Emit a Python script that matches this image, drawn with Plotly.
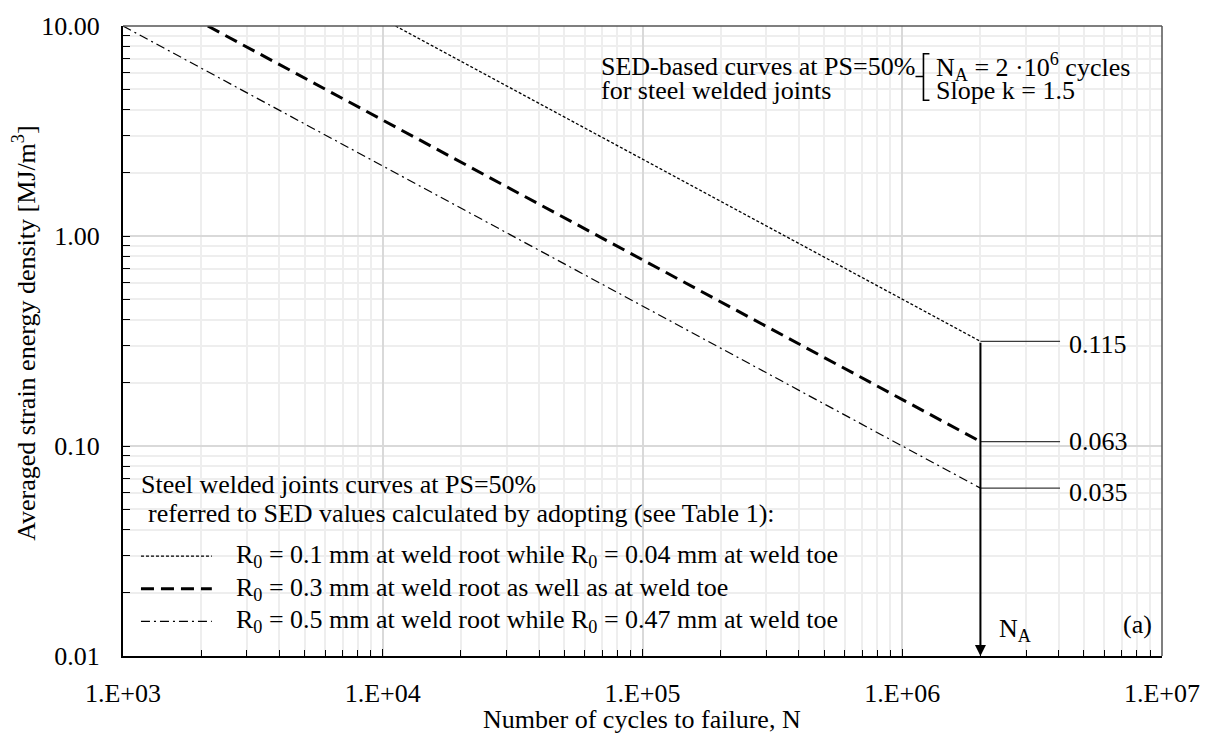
import math
import plotly.graph_objects as go

# --- data -------------------------------------------------------------------
N_A = 2.0e6                       # reference number of cycles
k_slope = 1.5
series_names = [
    "R<sub>0</sub> = 0.1 mm at weld root while R<sub>0</sub> = 0.04 mm at weld toe",
    "R<sub>0</sub> = 0.3 mm at weld root as well as at weld toe",
    "R<sub>0</sub> = 0.5 mm at weld root while R<sub>0</sub> = 0.47 mm at weld toe",
]
# first visible point of each curve (N, SED) and its value at N_A
n_start = [11200, 2120, 1000]
w_start = [10.0, 10.0, 10.0]
w_at_NA = [0.315, 0.105, 0.063]
# values quoted next to the curve ends
end_labels = ["0.115", "0.063", "0.035"]

x_tickvals = [1e3, 1e4, 1e5, 1e6, 1e7]
x_ticktext = ["1.E+03", "1.E+04", "1.E+05", "1.E+06", "1.E+07"]
y_tickvals = [0.01, 0.1, 1, 10]
y_ticktext = ["0.01", "0.10", "1.00", "10.00"]

# --- styling ----------------------------------------------------------------
FONT = "Liberation Serif"
FS = 26
W, H = 1212, 733
ML, MR, MT, MB = 123, 48, 19, 77
PW, PH = W - ML - MR, H - MT - MB

line_styles = [
    dict(color="black", width=1.3, dash="3px,2px"),
    dict(color="black", width=3, dash="13px,7px"),
    dict(color="black", width=1.2, dash="9px,4px,2px,4px"),
]


def px(xp):
    return (xp - ML) / PW


def py(yp):
    return 1 - (yp - MT) / PH


fig = go.Figure()

for i in range(3):
    fig.add_trace(go.Scatter(
        x=[n_start[i], N_A], y=[w_start[i], w_at_NA[i]],
        mode="lines", line=line_styles[i], showlegend=False,
        hoverinfo="skip",
    ))

# leader lines from the curve ends to their labels
lead_end = 4.05e6
for i in range(3):
    fig.add_trace(go.Scatter(
        x=[N_A, lead_end], y=[w_at_NA[i], w_at_NA[i]],
        mode="lines", line=dict(color="#3a3a3a", width=1.3),
        showlegend=False, hoverinfo="skip",
    ))

minor_x = [m * 10 ** d for d in range(3, 7) for m in range(2, 10)]
minor_y = [m * 10 ** d for d in range(-2, 1) for m in range(2, 10)]

axis_common = dict(
    type="log", showline=True, linecolor="black", linewidth=2,
    ticks="inside", ticklen=7, tickwidth=1, tickcolor="black",
    showgrid=True, gridcolor="#d9d9d9", gridwidth=1.6,
    tickfont=dict(family=FONT, size=FS, color="black"),
    zeroline=False, mirror=False,
)

fig.update_xaxes(
    **axis_common, range=[3, 7], tickmode="array",
    tickvals=x_tickvals, ticktext=x_ticktext, ticklabelstandoff=13,
    minor=dict(tickvals=minor_x, ticks="inside", ticklen=6, tickwidth=1,
               tickcolor="black", showgrid=True, gridcolor="#eeeeee",
               gridwidth=1.6),
)
fig.update_yaxes(
    **axis_common, range=[-2, 1], tickmode="array",
    tickvals=y_tickvals, ticktext=y_ticktext, ticklabelstandoff=16,
    minor=dict(tickvals=minor_y, ticks="inside", ticklen=7, tickwidth=1,
               tickcolor="black", showgrid=True, gridcolor="#eeeeee",
               gridwidth=1.6),
)

shapes = [
    # top and right frame of the plot area
    dict(type="line", xref="paper", yref="paper", x0=0, x1=1, y0=1, y1=1,
         line=dict(color="#555555", width=1.5)),
    dict(type="line", xref="paper", yref="paper", x0=1, x1=1, y0=0, y1=1,
         line=dict(color="#555555", width=1.5)),
    # white panel behind the legend entries
    dict(type="rect", xref="paper", yref="paper", x0=px(215), x1=px(883),
         y0=py(650), y1=py(532), fillcolor="white", line=dict(width=0),
         layer="between"),
]

# legend samples
legend_y = [555, 588, 621]
for i in range(3):
    st = line_styles[i]
    shapes.append(dict(type="line", xref="paper", yref="paper",
                       x0=px(141), x1=px(212), y0=py(legend_y[i]), y1=py(legend_y[i]),
                       line=dict(color="black", width=st["width"], dash=st["dash"])))

# bracket joining the two SED notes (vertical bar, end serifs, small tick)
bx, btop, bbot, btick, bleft, bright = 925, 47, 94, 70, 917, 931
bracket = (f"M {px(bright)},{py(btop)} L {px(bx)},{py(btop)} "
           f"L {px(bx)},{py(bbot)} L {px(bright)},{py(bbot)} "
           f"M {px(bx)},{py(btick)} L {px(bleft)},{py(btick)}")
shapes.append(dict(type="path", xref="paper", yref="paper", path=bracket,
                   line=dict(color="black", width=1.6)))

fig.update_layout(shapes=shapes)

tf = dict(family=FONT, size=FS, color="black")
ann = []

# arrow marking N_A
ann.append(dict(x=math.log10(N_A), y=-2, ax=math.log10(N_A), ay=math.log10(w_at_NA[0]),
                xref="x", yref="y", axref="x", ayref="y", text="", showarrow=True,
                arrowhead=2, arrowsize=1.1, arrowwidth=2, arrowcolor="black",
                standoff=0, startstandoff=0))
ann.append(dict(x=math.log10(N_A), y=py(630), xref="x", yref="paper",
                xanchor="left", yanchor="middle", xshift=17,
                text="N<sub>A</sub>", showarrow=False, font=tf))
ann.append(dict(x=px(1139), y=py(624), xref="paper", yref="paper",
                xanchor="center", yanchor="middle",
                text="(a)", showarrow=False, font=tf))

# values at the curve ends
label_shift = [-3, 0, -4]
for i in range(3):
    ann.append(dict(x=math.log10(4.3e6), y=math.log10(w_at_NA[i]), xref="x", yref="y",
                    xanchor="left", yanchor="middle", yshift=label_shift[i],
                    text=end_labels[i], showarrow=False, font=tf))

# SED notes, upper right
note_left = ["SED-based curves at PS=50%", "for steel welded joints"]
note_right = ["N<sub>A</sub> = 2 ·10<sup>6</sup> cycles", "Slope k = 1.5"]
note_y = [60, 84]
for j in range(2):
    ann.append(dict(x=px(600), y=py(note_y[j]), xref="paper", yref="paper",
                    xanchor="left", yanchor="middle", text=note_left[j],
                    showarrow=False, font=tf))
    ann.append(dict(x=px(936), y=py(note_y[j]), xref="paper", yref="paper",
                    xanchor="left", yanchor="middle", text=note_right[j],
                    showarrow=False, font=tf))

# legend headings and entries
ann.append(dict(x=px(139), y=py(483), xref="paper", yref="paper",
                xanchor="left", yanchor="middle",
                text="Steel welded joints curves at PS=50%",
                showarrow=False, font=tf))
ann.append(dict(x=px(146), y=py(512), xref="paper", yref="paper",
                xanchor="left", yanchor="middle",
                text="referred to SED values calculated by adopting (see Table 1):",
                showarrow=False, font=tf))
for i in range(3):
    ann.append(dict(x=px(234), y=py(legend_y[i]), xref="paper", yref="paper",
                    xanchor="left", yanchor="middle", text=series_names[i],
                    showarrow=False, font=tf))

# axis titles
ann.append(dict(x=px(643), y=py(720), xref="paper", yref="paper",
                xanchor="center", yanchor="middle",
                text="Number of cycles to failure, N", showarrow=False, font=tf))
ann.append(dict(x=px(24), y=py(330), xref="paper", yref="paper",
                xanchor="center", yanchor="middle", textangle=-90,
                text="Averaged strain energy density [MJ/m<sup>3</sup>]",
                showarrow=False, font=tf))

fig.update_layout(
    annotations=ann,
    width=W, height=H,
    margin=dict(l=ML, r=MR, t=MT, b=MB, pad=0),
    paper_bgcolor="white", plot_bgcolor="white",
    showlegend=False,
    font=dict(family=FONT, size=FS, color="black"),
)

fig.write_html("out.html")
